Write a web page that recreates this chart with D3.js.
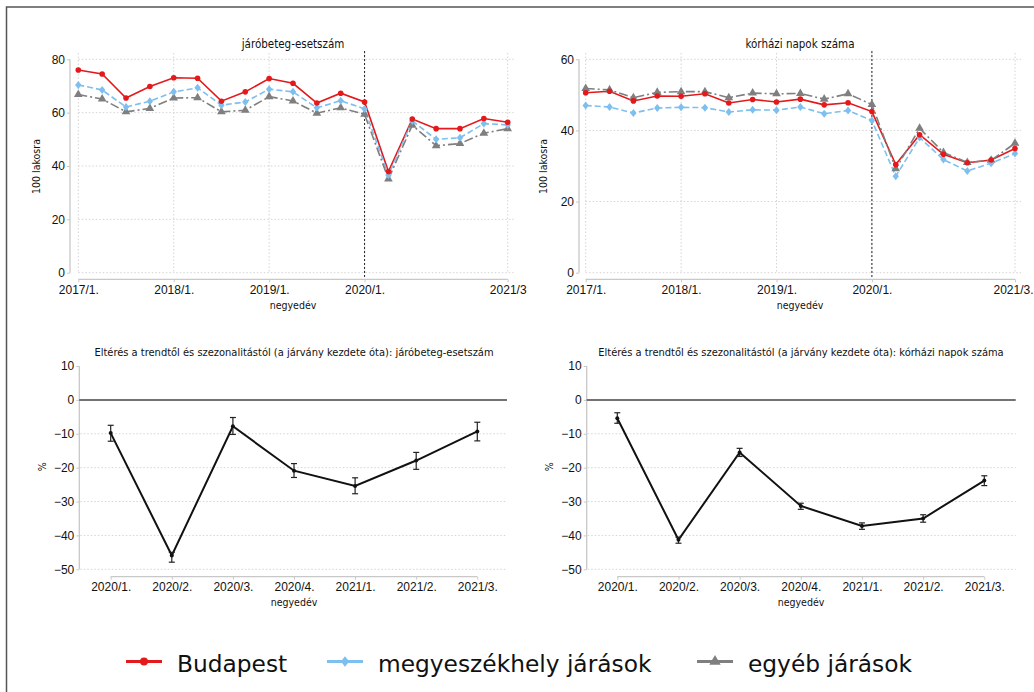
<!DOCTYPE html>
<html><head><meta charset="utf-8">
<script src="https://cdn.jsdelivr.net/npm/d3@7"></script>
<style>
body{margin:0;background:#fff;}
svg{display:block;font-family:"DejaVu Sans Condensed","DejaVu Sans",sans-serif;font-stretch:condensed;}
</style></head><body>
<svg id="c" width="1034" height="692"></svg>
<script>
// ---- data ----
const quarters = ["2017/1.","2017/2.","2017/3.","2017/4.","2018/1.","2018/2.","2018/3.","2018/4.","2019/1.","2019/2.","2019/3.","2019/4.","2020/1.","2020/2.","2020/3.","2020/4.","2021/1.","2021/2.","2021/3."];
const topTickIdx = [0,4,8,12,18];
const topTickLabelsLeft = ["2017/1.","2018/1.","2019/1.","2020/1.","2021/3"];
const topTickLabelsRight = ["2017/1.","2018/1.","2019/1.","2020/1.","2021/3."];
const seriesNames = ["Budapest","megyeszékhely járások","egyéb járások"];

const outBudapest = [76,74.5,65.5,69.8,73.1,72.9,64.3,67.8,72.8,71,63.6,67.3,64,37.9,57.6,54,54,57.8,56.4];
const outMegye    = [70.4,68.5,62.1,64.3,67.8,69.3,62.8,64,68.8,67.8,61.8,64.5,61.4,36.6,56.9,50,50.6,55.9,55.4];
const outEgyeb    = [66.8,65.1,60.3,61.6,65.5,65.6,60.3,60.9,66,64.4,59.8,61.8,59.4,35.1,55.3,47.6,48.4,52.3,54];

const hospBudapest = [50.6,51,48.3,49.7,49.6,50.3,47.7,48.7,48,48.8,47.2,47.8,45.3,30.4,38.8,33.3,30.9,31.7,34.9];
const hospMegye    = [47,46.6,44.9,46.3,46.5,46.4,45.2,45.8,45.7,46.6,44.7,45.6,42.8,27.1,38,31.8,28.6,30.8,33.5];
const hospEgyeb    = [51.8,51.4,49.2,50.7,50.9,50.9,49.2,50.5,50.3,50.4,48.8,50.3,47.3,29.2,40.6,33.8,31,31.6,36.4];

const devQuarters = ["2020/1.","2020/2.","2020/3.","2020/4.","2021/1.","2021/2.","2021/3."];
const devOut     = [-9.8,-45.9,-7.8,-20.9,-25.4,-17.9,-9.3];
const devOutLo   = [-12.2,-47.9,-10.2,-22.9,-27.7,-20.5,-12.1];
const devOutHi   = [-7.5,-45,-5.2,-18.8,-23,-15.5,-6.6];
const devHosp    = [-5.4,-41.3,-15.5,-31.3,-37.2,-35,-23.8];
const devHospLo  = [-6.9,-42.3,-16.7,-32.3,-38.2,-36.1,-25.3];
const devHospHi  = [-3.8,-40.5,-14.3,-30.5,-36.3,-33.9,-22.4];

const topYTicksLeft = [0,20,40,60,80];
const topYTicksRight = [0,20,40,60];
const devYTicks = [10,0,-10,-20,-30,-40,-50];

// ---- styles ----
const colors = ["#e3191c","#7dbfee","#7f7f7f"];
const dashes = [null,"6,3","9,3,2,3"];
const axisCol = "#c8c8c8";
const gridCol = "#d4d4d4";

const svg = d3.select("#c");
svg.append("rect").attr("x",6.5).attr("y",7).attr("width",1040).attr("height",700)
  .attr("fill","none").attr("stroke","#555").attr("stroke-width",1.5);

function markerPath(i, s){
  if(i===0) return d3.symbol(d3.symbolCircle, s*s*Math.PI)();
  if(i===1) { // diamond
    return `M0,${-s*1.25}L${s},0L0,${s*1.25}L${-s},0Z`;
  }
  return d3.symbol(d3.symbolTriangle, s*s*3.2)();
}

function drawTop(cfg){
  const g = svg.append("g");
  const x = d3.scalePoint().domain(quarters).range([cfg.x0, cfg.x1]);
  const y = d3.scaleLinear().domain([0, cfg.ymax]).range([272.7, 59.3]);
  // grid
  g.selectAll(".hg").data(cfg.yticks).join("line")
    .attr("x1",cfg.x0).attr("x2",cfg.x1+6).attr("y1",d=>y(d)).attr("y2",d=>y(d))
    .attr("stroke",gridCol).attr("stroke-width",1).attr("stroke-dasharray","1.5,2");
  g.selectAll(".vg").data(topTickIdx).join("line")
    .attr("x1",d=>x(quarters[d])).attr("x2",d=>x(quarters[d])).attr("y1",53).attr("y2",272.7)
    .attr("stroke",gridCol).attr("stroke-width",1).attr("stroke-dasharray","1.5,2");
  // y axis
  const ya = d3.axisLeft(y).tickValues(cfg.yticks).tickSize(3).tickPadding(2);
  const yg = g.append("g").attr("transform",`translate(${cfg.yax},0)`).call(ya);
  // x axis
  const xa = d3.axisBottom(x).tickValues(topTickIdx.map(i=>quarters[i])).tickSize(3).tickPadding(3)
    .tickFormat((d,i)=>cfg.xlabels[i]);
  const xg = g.append("g").attr("transform",`translate(0,279.3)`).call(xa);
  [yg,xg].forEach(a=>{
    a.select(".domain").attr("stroke",axisCol).attr("stroke-width",1.3);
    a.selectAll(".tick line").attr("stroke",axisCol);
    a.selectAll("text").attr("fill","#111").style("font-size","12px").style("font-family",null);
  });
  xg.selectAll(".tick text").filter((d,i)=>i===4).attr("dx",cfg.lastDx||0);
  xg.select(".domain").attr("d",`M${cfg.x0},0H${cfg.x1}`);
  yg.select(".domain").attr("d",`M0,${y(cfg.ymax)}V${y(0)}`);
  // vertical dotted at 2020/1
  g.append("line").attr("x1",x("2020/1.")).attr("x2",x("2020/1.")).attr("y1",51).attr("y2",279)
    .attr("stroke","#222").attr("stroke-width",1).attr("stroke-dasharray","2,2");
  // series
  cfg.series.forEach((s,i)=>{
    const line = d3.line().x((d,j)=>x(quarters[j])).y(d=>y(d));
    g.append("path").datum(s).attr("d",line).attr("fill","none")
      .attr("stroke",colors[i]).attr("stroke-width",1.6)
      .attr("stroke-dasharray",dashes[i]);
  });
  [2,1,0].forEach(i=>{
    g.selectAll(".m"+i).data(cfg.series[i]).join("path")
      .attr("transform",(d,j)=>`translate(${x(quarters[j])},${y(d)})`)
      .attr("d",markerPath(i, i===0?2.8:3.2)).attr("fill",colors[i]);
  });
  // titles
  g.append("text").attr("x",cfg.tx).attr("y",48).attr("text-anchor","middle")
    .style("font-size","11.5px").attr("fill","#111").text(cfg.title);
  g.append("text").attr("transform",`translate(${cfg.ytx},166.5) rotate(-90)`).attr("text-anchor","middle")
    .style("font-size","10.5px").attr("fill","#111").text("100 lakosra");
  g.append("text").attr("x",cfg.tx).attr("y",309).attr("text-anchor","middle")
    .style("font-size","10.5px").attr("fill","#111").text("negyedév");
}

drawTop({x0:78.3,x1:507.7,yax:70,ymax:80,yticks:topYTicksLeft,xlabels:topTickLabelsLeft,
  series:[outBudapest,outMegye,outEgyeb],title:"járóbeteg-esetszám",tx:293,ytx:40});
drawTop({x0:585.7,x1:1015,yax:579,ymax:60,yticks:topYTicksRight,xlabels:topTickLabelsRight,
  series:[hospBudapest,hospMegye,hospEgyeb],title:"kórházi napok száma",tx:800,ytx:547,lastDx:-2});

function drawDev(cfg){
  const g = svg.append("g");
  const x = d3.scalePoint().domain(devQuarters).range([cfg.x0, cfg.x1]);
  const y = d3.scaleLinear().domain([-50,10]).range([569.3,366]);
  g.selectAll(".hg").data(devYTicks.filter(d=>d<0)).join("line")
    .attr("x1",cfg.yax+1).attr("x2",cfg.zx).attr("y1",d=>y(d)).attr("y2",d=>y(d))
    .attr("stroke",gridCol).attr("stroke-width",1).attr("stroke-dasharray","1.5,2");
  const ya = d3.axisLeft(y).tickValues(devYTicks).tickSize(3).tickPadding(2);
  const yg = g.append("g").attr("transform",`translate(${cfg.yax},0)`).call(ya);
  const xa = d3.axisBottom(x).tickSize(3).tickPadding(3);
  const xg = g.append("g").attr("transform",`translate(0,576.7)`).call(xa);
  [yg,xg].forEach(a=>{
    a.select(".domain").attr("stroke",axisCol).attr("stroke-width",1.3);
    a.selectAll(".tick line").attr("stroke",axisCol);
    a.selectAll("text").attr("fill","#111").style("font-size","12px").style("font-family",null);
  });
  xg.select(".domain").attr("d",`M${cfg.x0},0H${cfg.x1}`);
  yg.select(".domain").attr("d",`M0,${y(10)}V${y(-50)}`);
  g.append("line").attr("x1",cfg.yax).attr("x2",cfg.zx).attr("y1",y(0)).attr("y2",y(0))
    .attr("stroke","#444").attr("stroke-width",1.5);
  const line = d3.line().x((d,j)=>x(devQuarters[j])).y(d=>y(d));
  g.append("path").datum(cfg.v).attr("d",line).attr("fill","none").attr("stroke","#111").attr("stroke-width",2);
  cfg.v.forEach((v,j)=>{
    const cx = x(devQuarters[j]);
    g.append("line").attr("x1",cx).attr("x2",cx).attr("y1",y(cfg.lo[j])).attr("y2",y(cfg.hi[j])).attr("stroke","#222").attr("stroke-width",1.2);
    [cfg.lo[j],cfg.hi[j]].forEach(e=>g.append("line").attr("x1",cx-3).attr("x2",cx+3).attr("y1",y(e)).attr("y2",y(e)).attr("stroke","#222").attr("stroke-width",1.2));
    g.append("circle").attr("cx",cx).attr("cy",y(v)).attr("r",2).attr("fill","#111");
  });
  g.append("text").attr("x",cfg.tx).attr("y",356).attr("text-anchor","middle")
    .style("font-size","11px").attr("fill","#111").text(cfg.title);
  g.append("text").attr("transform",`translate(${cfg.ytx},466.7) rotate(-90)`).attr("text-anchor","middle")
    .style("font-size","10.5px").attr("fill","#111").text("%");
  g.append("text").attr("x",cfg.tx).attr("y",605.5).attr("text-anchor","middle")
    .style("font-size","10.5px").attr("fill","#111").text("negyedév");
}

drawDev({x0:110.7,x1:477.3,yax:79.3,zx:507,v:devOut,lo:devOutLo,hi:devOutHi,tx:294,ytx:46,
  title:"Eltérés a trendtől és szezonalitástól (a járvány kezdete óta): járóbeteg-esetszám"});
drawDev({x0:617.3,x1:984.3,yax:586.7,zx:1015.7,v:devHosp,lo:devHospLo,hi:devHospHi,tx:801,ytx:553,
  title:"Eltérés a trendtől és szezonalitástól (a járvány kezdete óta): kórházi napok száma"});

// legend
const legX = [126,327,697];
const lg = svg.append("g");
seriesNames.forEach((n,i)=>{
  lg.append("line").attr("x1",legX[i]).attr("x2",legX[i]+36).attr("y1",661.5).attr("y2",661.5)
    .attr("stroke",colors[i]).attr("stroke-width",2.8);
  lg.append("path").attr("transform",`translate(${legX[i]+18},661.5)`).attr("d",markerPath(i,i===0?4:4.2)).attr("fill",colors[i]);
  lg.append("text").attr("x",legX[i]+51).attr("y",671.5)
    .style("font-family","'DejaVu Sans',sans-serif").style("font-stretch","normal")
    .style("font-size","23.3px").attr("fill","#111").text(n);
});
</script></body></html>
